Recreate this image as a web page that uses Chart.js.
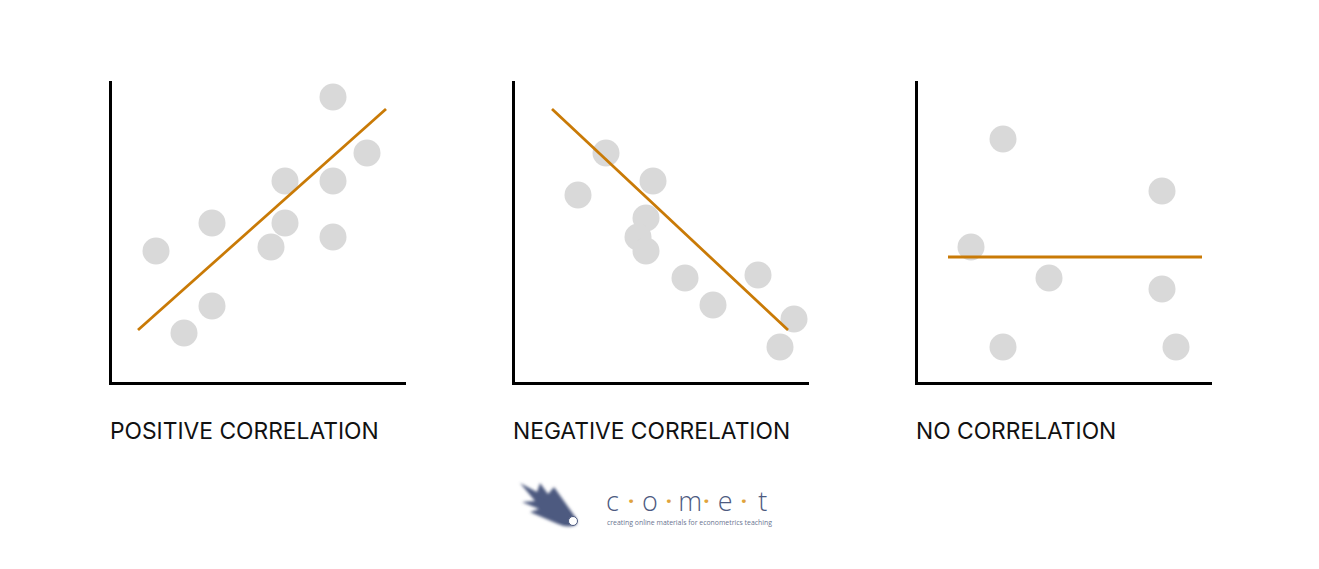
<!DOCTYPE html>
<html>
<head>
<meta charset="utf-8">
<script src="https://cdn.jsdelivr.net/npm/chart.js@4"></script>
<style>
  body { margin: 0; width: 1319px; height: 569px; background: #fff; position: relative; overflow: hidden; }
  canvas { position: absolute; }
  .label { position: absolute; top: 420px; font-family: Inter, sans-serif; font-size: 22.8px; line-height: 22px; color: #111; white-space: nowrap; }
  #logo-text { position: absolute; left: 603px; top: 487px; display: flex; font-family: "Open Sans", sans-serif; font-weight: 300; font-size: 27px; line-height: 27px; color: #4d5a80; }
  #logo-text span { width: 18.8px; text-align: center; }
  #logo-text .dot { color: #e0a33c; font-weight: 700; font-size: 22px; }
  #tagline { position: absolute; left: 607px; top: 519px; font-family: "Open Sans", sans-serif; font-size: 6.9px; line-height: 8px; color: #6a7490; white-space: nowrap; }
</style>
</head>
<body>
<canvas id="pos"></canvas>
<canvas id="neg"></canvas>
<canvas id="none"></canvas>

<div class="label" style="left:110px">POSITIVE CORRELATION</div>
<div class="label" style="left:513px">NEGATIVE CORRELATION</div>
<div class="label" style="left:916px">NO CORRELATION</div>

<svg style="position:absolute;left:510px;top:470px" width="90" height="60">
  <defs>
    <filter id="blur"><feGaussianBlur stdDeviation="1.6"/></filter>
  </defs>
  <path d="M66,48 L44,17 L38,24 L30,13 L27,22 L10,13 L25,31 L12,32 L29,39 L20,42 L48,54 Q60,59 67,54 Z" fill="#4d5a80" filter="url(#blur)"/>
  <path d="M64,49 L44,24 L36,30 L28,27 L30,37 L50,52 Q60,56 65,53 Z" fill="#4d5a80"/>
  <circle cx="63" cy="51" r="4.5" fill="#fff" stroke="#4d5a80" stroke-width="1"/>
</svg>
<div id="logo-text"><span>c</span><span class="dot">·</span><span>o</span><span class="dot">·</span><span>m</span><span class="dot">·</span><span>e</span><span class="dot">·</span><span>t</span></div>
<div id="tagline">creating online materials for econometrics teaching</div>

<script>
// values in axis units (x 0..29.5, y 0..30.1)
const posX = [4.6, 7.4, 10.2, 10.2, 16.1, 17.5, 17.5, 22.3, 22.3, 22.3, 25.7];
const posY = [13.2, 5.0, 7.7, 16.0, 13.6, 16.0, 20.2, 28.6, 20.2, 14.6, 23.0];
const posLineX = [2.8, 27.6];
const posLineY = [5.3, 27.4];

const negX = [9.3, 6.5, 14.0, 13.3, 12.5, 13.3, 17.2, 20.0, 24.5, 28.1, 26.7];
const negY = [23.0, 18.8, 20.2, 16.5, 14.6, 13.2, 10.5, 7.8, 10.8, 6.4, 3.6];
const negLineX = [3.9, 27.5];
const negLineY = [27.4, 5.3];

const noneX = [8.7, 5.5, 13.3, 24.6, 24.6, 8.7, 26.0];
const noneY = [24.4, 13.6, 10.5, 19.2, 9.4, 3.6, 3.6];
const noneLineX = [3.2, 28.6];
const noneLineY = [12.6, 12.6];

const pad = 20;

function toPoints(xs, ys) {
  return xs.map((x, i) => ({ x: x, y: ys[i] }));
}

function makePanel(id, left, xs, ys, lx, ly) {
  const canvas = document.getElementById(id);
  const w = 295, h = 301;
  canvas.width = w + pad * 2;
  canvas.height = h + pad * 2;
  canvas.style.left = (left - pad) + "px";
  canvas.style.top = (82 - pad) + "px";

  new Chart(canvas.getContext('2d'), {
    type: 'scatter',
    data: {
      datasets: [{
        data: toPoints(xs, ys),
        backgroundColor: '#d9d9d9',
        borderWidth: 0,
        pointRadius: 13.5,
        clip: false,
        order: 2
      },
      {
        type: 'line',
        data: toPoints(lx, ly),
        borderColor: '#c97a06',
        borderWidth: 2.8,
        pointRadius: 0,
        clip: false,
        order: 1
      }]
    },
    options: {
      responsive: false,
      animation: false,
      events: [],
      layout: { padding: pad },
      plugins: { legend: { display: false }, tooltip: { enabled: false } },
      scales: {
        x: {
          type: 'linear', min: 0, max: 29.5,
          ticks: { display: false },
          grid: { display: false, drawTicks: false },
          border: { display: true, color: '#000', width: 3 }
        },
        y: {
          type: 'linear', min: 0, max: 30.1,
          ticks: { display: false },
          grid: { display: false, drawTicks: false },
          border: { display: true, color: '#000', width: 3 }
        }
      }
    }
  });
}

makePanel("pos", 110, posX, posY, posLineX, posLineY);
makePanel("neg", 513, negX, negY, negLineX, negLineY);
makePanel("none", 916, noneX, noneY, noneLineX, noneLineY);
</script>
</body>
</html>
